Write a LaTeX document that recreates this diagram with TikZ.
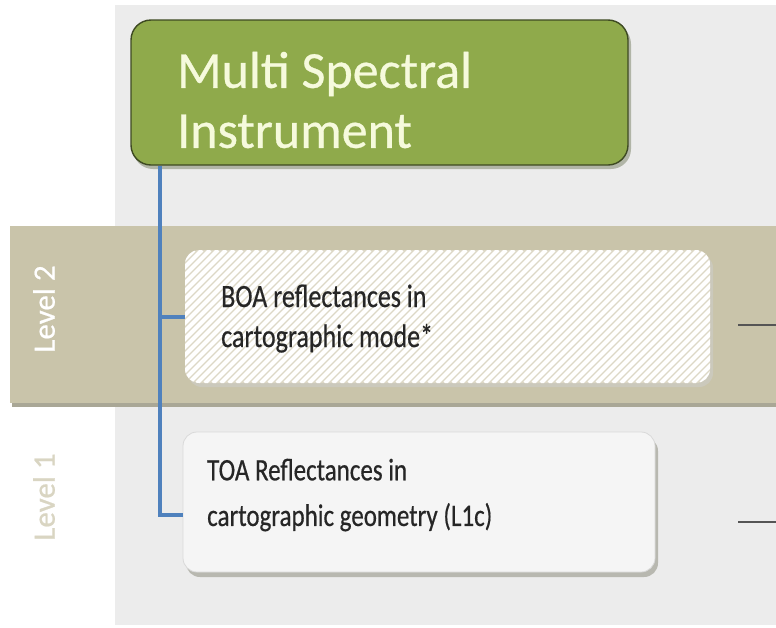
\documentclass[tikz,border=0pt]{standalone}
\usepackage{fontspec}
\setmainfont{Carlito}
\newfontfamily\heavyfont[FakeBold=0.6]{Carlito}
\definecolor{bggrey}{HTML}{ECECEC}
\definecolor{bandtan}{HTML}{C9C4AA}
\definecolor{bandshadow}{HTML}{A9A796}
\definecolor{msigreen}{HTML}{8FAA4B}
\definecolor{msiedge}{HTML}{3E4A22}
\definecolor{msitext}{HTML}{F6FADC}
\definecolor{linkblue}{HTML}{4F81BD}
\definecolor{hatchbg}{HTML}{DDD8C6}
\definecolor{toafill}{HTML}{F5F5F5}
\definecolor{boxshadow}{HTML}{B8B8B0}
\definecolor{lvonetext}{HTML}{D9D5C2}
\definecolor{ticklight}{HTML}{555555}
\newcommand{\tallrows}[3]{\scalebox{1}[1.25]{\fontsize{#1}{#2}\selectfont\begin{tabular}{@{}l@{}}#3\end{tabular}}}
\tikzset{
  link/.style={draw=linkblue, line width=4pt},
  tick/.style={draw=ticklight, line width=2.4pt},
  lvlabel/.style={rotate=90, font=\heavyfont\fontsize{31}{36}\selectfont, inner sep=0pt},
  boxtext/.style={anchor=west, align=left, inner sep=0pt, text=black!85, font=\heavyfont}
}
\begin{document}
\begin{tikzpicture}[x=1pt,y=-1pt]
\useasboundingbox (0,0) rectangle (776,627);
\fill[white] (0,0) rectangle (776,627);
% grey panel
\fill[bggrey] (115,5) rectangle (776,625);
% level 2 band with shadow
\fill[bandshadow] (12,229) rectangle (776,407);
\fill[bandtan] (10,226) rectangle (776,403);
\node[lvlabel, text=white] (lvtwo) at (44,309) {Level 2};
\node[lvlabel, text=lvonetext] (lvone) at (44,497) {Level 1};
% green box
\fill[msiedge!70, opacity=0.5] (133,24) [rounded corners=20pt] rectangle (631,169);
\node[draw=msiedge, line width=1.4pt, fill=msigreen, rounded corners=20pt,
      minimum width=497pt, minimum height=145pt, inner sep=0pt] (msi) at (379.5,92.5) {};
\node[anchor=west, align=left, inner sep=0pt, text=msitext,
      font=\heavyfont\fontsize{52}{60}\selectfont] (msilabel) at (177,100) {Multi Spectral\\Instrument};
% BOA hatched box
\fill[boxshadow!70, opacity=0.6] (188,254) [rounded corners=14pt] rectangle (713,387);
\node[fill=hatchbg, rounded corners=14pt, minimum width=525pt, minimum height=133pt,
      inner sep=0pt] (boa) at (447.5,316.5) {};
\begin{scope}
  \clip[rounded corners=14pt] (185,250) rectangle (710,383);
  \foreach \i in {-140,-132,...,540} {
    \draw[white, line width=4pt] (185+\i,383) -- (318+\i,250);
  }
\end{scope}
\node[boxtext] (boalabel) at (221,319) {\tallrows{26}{32}{BOA reflectances in\\cartographic mode*}};
% TOA box
\fill[boxshadow] (186,437) [rounded corners=14pt] rectangle (658,577);
\node[draw=white!85!black, line width=0.8pt, fill=toafill, rounded corners=14pt,
      minimum width=472pt, minimum height=140pt, inner sep=0pt] (toa) at (419,502) {};
\node[boxtext] (toalabel) at (207,494) {\tallrows{25}{36.5}{TOA Reflectances in\\cartographic geometry (L1c)}};
% blue connectors
\coordinate (trunk) at (160,165);
\draw[link] (msi.south -| trunk) -- (trunk |- boa.west) -- (trunk |- toa.west) |- ([yshift=-13pt]toa.west);
\draw[link] (trunk |- boa.west) -- (boa.west);
% right ticks
\coordinate (tickatwo) at (738,325);
\coordinate (tickbtwo) at (776,325);
\coordinate (tickaone) at (738,522);
\coordinate (tickbone) at (776,522);
\draw[tick] (tickatwo) -- (tickbtwo);
\draw[tick] (tickaone) -- (tickbone);
\end{tikzpicture}
\end{document}
